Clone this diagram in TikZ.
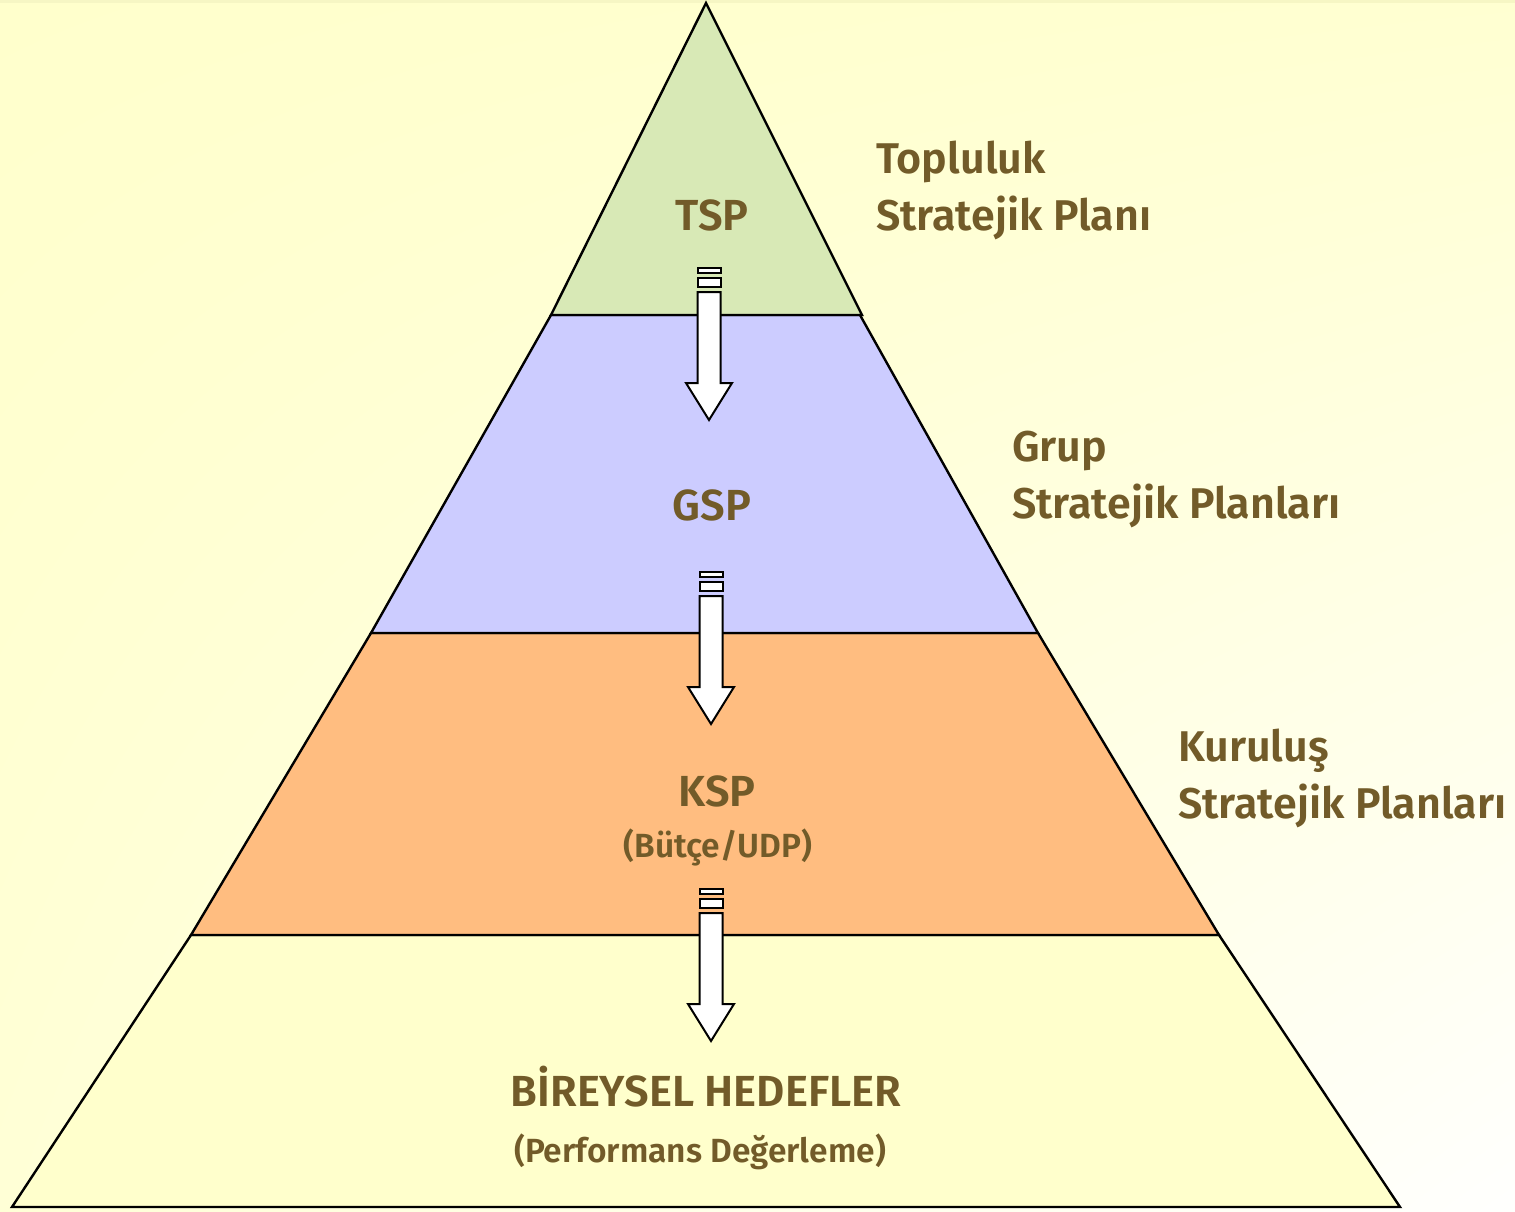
\documentclass[tikz,border=0pt]{standalone}
\usepackage{fontspec}
\setmainfont{Fira Sans}[BoldFont={* SemiBold}]
\usetikzlibrary{shadings}
\definecolor{txt}{HTML}{725B29}
\definecolor{bgY}{HTML}{FFFFCC}
\definecolor{lgreen}{HTML}{D8E9B6}
\definecolor{lblue}{HTML}{CCCCFF}
\definecolor{lorange}{HTML}{FFBD80}
\definecolor{lyellow}{HTML}{FFFFCC}
\begin{document}
\begin{tikzpicture}[x=1pt,y=-1pt,
  layer/.style={draw=black,line width=2.4pt,line join=miter},
  lbl/.style={text=txt,font=\bfseries\fontsize{43.5}{52}\selectfont,inner sep=0pt},
  sub/.style={text=txt,font=\bfseries\fontsize{33.5}{40}\selectfont,inner sep=0pt},
  side/.style={text=txt,font=\bfseries\fontsize{43}{57}\selectfont,align=left,anchor=north west,inner sep=0pt},
  blk/.style={draw=black,fill=white,line width=2pt,line join=miter},
  pics/downarrow/.style={code={
    \draw[blk] (-11.5,0) rectangle (11.5,5);
    \draw[blk] (-11.5,10) rectangle (11.5,19);
    \draw[blk] (-11.5,24) -- (-11.5,115) -- (-23,115) -- (0,152) -- (23,115) -- (11.5,115) -- (11.5,24) -- cycle;
  }}]
\useasboundingbox (0,0) rectangle (1515,1211);
\shade[upper left=bgY,upper right=bgY!90!white,lower left=bgY!80!white,lower right=white!97!bgY] (0,0) rectangle (1515,1211);
\fill[bgY!85!black!25!bgY] (0,0) rectangle (1515,3);
% layers
\filldraw[layer,fill=lyellow] (191,935) -- (1219,935) -- (1400,1207) -- (12,1207) -- cycle;
\filldraw[layer,fill=lorange] (371,633) -- (1038,633) -- (1219,935) -- (191,935) -- cycle;
\filldraw[layer,fill=lblue] (551,315) -- (860,315) -- (1038,633) -- (371,633) -- cycle;
\filldraw[layer,fill=lgreen] (706,3) -- (862,315) -- (551,315) -- cycle;
% arrows
\pic at (709,268) {downarrow};
\pic at (711,572) {downarrow};
\pic at (711,889) {downarrow};
% labels
\node[lbl] (tsp) at (712,215) {TSP};
\node[lbl] (gsp) at (712,505) {GSP};
\node[lbl] (ksp) at (717,791) {KSP};
\node[sub] (butce) at (718,847) {(Bütçe/UDP)};
\node[lbl] (bh) at (706,1087) {BİREYSEL HEDEFLER};
\node[sub] (pd) at (700,1152) {(Performans Değerleme)};
\node[side] (t1) at (876,141) {Topluluk\\Stratejik Planı};
\node[side] (t2) at (1012,431) {Grup\\Stratejik Planları};
\node[side] (t3) at (1178,729) {Kuruluş\\Stratejik Planları};
\end{tikzpicture}
\end{document}
